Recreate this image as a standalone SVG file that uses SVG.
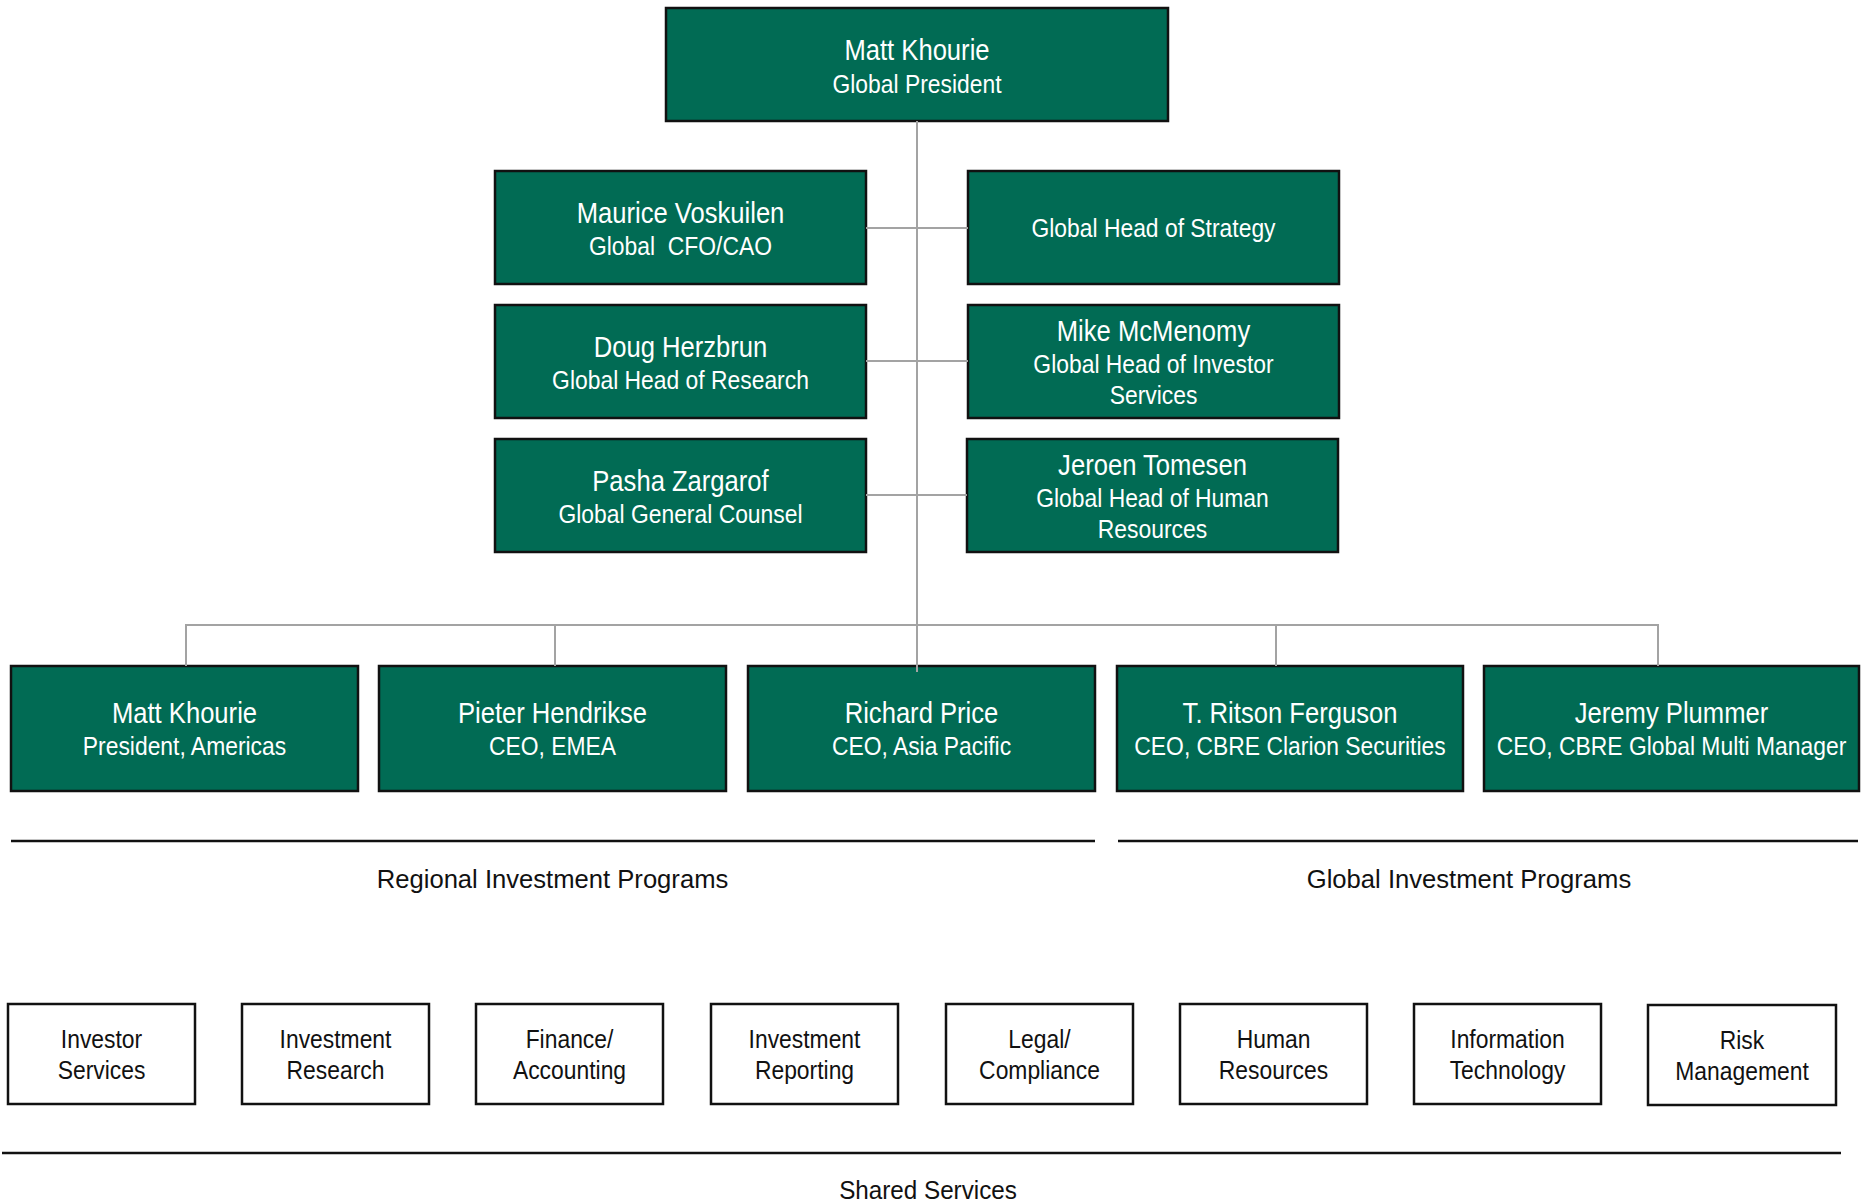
<svg xmlns="http://www.w3.org/2000/svg" width="1861" height="1203" viewBox="0 0 1861 1203">
<style>
.g{fill:#016b54;stroke:#111;stroke-width:2.5}
.w{fill:#fff;stroke:#111;stroke-width:2.5}
text{font-family:"Liberation Sans",Arial,sans-serif;text-anchor:middle}
.n{font-size:29px;fill:#fff}
.t{font-size:26.5px;fill:#fff}
.s{font-size:26.5px;fill:#111}
.l{font-size:26.5px;fill:#111}
.c{stroke:#a3a3a3;stroke-width:2;fill:none}
.r{stroke:#111;stroke-width:2.5}
</style>
<rect width="1861" height="1203" fill="#fff"/>

<g id="n-top">
<rect class="g" x="666" y="8" width="502" height="113"/>
<text class="n" transform="translate(917,60) scale(0.883,1)">Matt Khourie</text>
<text class="t" transform="translate(917,93) scale(0.863,1)">Global President</text>
</g>

<g id="n-maurice">
<rect class="g" x="495" y="171" width="371" height="113"/>
<text class="n" transform="translate(680.5,223) scale(0.883,1)">Maurice Voskuilen</text>
<text class="t" xml:space="preserve" transform="translate(680.5,255) scale(0.863,1)">Global  CFO/CAO</text>
</g>
<g id="n-strategy">
<rect class="g" x="968" y="171" width="371" height="113"/>
<text class="t" transform="translate(1153.5,237) scale(0.863,1)">Global Head of Strategy</text>
</g>
<g id="n-doug">
<rect class="g" x="495" y="305" width="371" height="113"/>
<text class="n" transform="translate(680.5,357) scale(0.883,1)">Doug Herzbrun</text>
<text class="t" transform="translate(680.5,389) scale(0.863,1)">Global Head of Research</text>
</g>
<g id="n-mike">
<rect class="g" x="968" y="305" width="371" height="113"/>
<text class="n" transform="translate(1153.5,341) scale(0.883,1)">Mike McMenomy</text>
<text class="t" transform="translate(1153.5,373) scale(0.863,1)">Global Head of Investor</text>
<text class="t" transform="translate(1153.5,404) scale(0.863,1)">Services</text>
</g>
<g id="n-pasha">
<rect class="g" x="495" y="439" width="371" height="113"/>
<text class="n" transform="translate(680.5,491) scale(0.883,1)">Pasha Zargarof</text>
<text class="t" transform="translate(680.5,523) scale(0.863,1)">Global General Counsel</text>
</g>
<g id="n-jeroen">
<rect class="g" x="967" y="439" width="371" height="113"/>
<text class="n" transform="translate(1152.5,475) scale(0.883,1)">Jeroen Tomesen</text>
<text class="t" transform="translate(1152.5,507) scale(0.863,1)">Global Head of Human</text>
<text class="t" transform="translate(1152.5,538) scale(0.863,1)">Resources</text>
</g>

<g id="n-americas">
<rect class="g" x="11" y="666" width="347" height="125"/>
<text class="n" transform="translate(184.5,723) scale(0.883,1)">Matt Khourie</text>
<text class="t" transform="translate(184.5,755) scale(0.863,1)">President, Americas</text>
</g>
<g id="n-emea">
<rect class="g" x="379" y="666" width="347" height="125"/>
<text class="n" transform="translate(552.5,723) scale(0.883,1)">Pieter Hendrikse</text>
<text class="t" transform="translate(552.5,755) scale(0.863,1)">CEO, EMEA</text>
</g>
<g id="n-apac">
<rect class="g" x="748" y="666" width="347" height="125"/>
<text class="n" transform="translate(921.5,723) scale(0.883,1)">Richard Price</text>
<text class="t" transform="translate(921.5,755) scale(0.863,1)">CEO, Asia Pacific</text>
</g>
<g id="n-clarion">
<rect class="g" x="1117" y="666" width="346" height="125"/>
<text class="n" transform="translate(1290,723) scale(0.883,1)">T. Ritson Ferguson</text>
<text class="t" transform="translate(1290,755) scale(0.863,1)">CEO, CBRE Clarion Securities</text>
</g>
<g id="n-gmm">
<rect class="g" x="1484" y="666" width="375" height="125"/>
<text class="n" transform="translate(1671.5,723) scale(0.883,1)">Jeremy Plummer</text>
<text class="t" transform="translate(1671.5,755) scale(0.863,1)">CEO, CBRE Global Multi Manager</text>
</g>

<g id="connectors">
<line class="c" x1="917" y1="121" x2="917" y2="672"/>
<line class="c" x1="866" y1="228" x2="968" y2="228"/>
<line class="c" x1="866" y1="361" x2="968" y2="361"/>
<line class="c" x1="866" y1="495" x2="967" y2="495"/>
<polyline class="c" points="186,666 186,625 1658,625 1658,666"/>
<line class="c" x1="555" y1="625" x2="555" y2="666"/>
<line class="c" x1="1276" y1="625" x2="1276" y2="666"/>
</g>

<g id="sections">
<line class="r" x1="11" y1="841" x2="1095" y2="841"/>
<line class="r" x1="1118" y1="841" x2="1858" y2="841"/>
<text class="l" transform="translate(552.5,888) scale(0.967,1)">Regional Investment Programs</text>
<text class="l" transform="translate(1469,888) scale(0.967,1)">Global Investment Programs</text>
<line class="r" x1="2" y1="1153" x2="1841" y2="1153"/>
<text class="l" transform="translate(928,1199) scale(0.915,1)">Shared Services</text>
</g>

<g id="s-investor">
<rect class="w" x="8" y="1004" width="187" height="100"/>
<text class="s" transform="translate(101.5,1048) scale(0.863,1)">Investor</text>
<text class="s" transform="translate(101.5,1079) scale(0.863,1)">Services</text>
</g>
<g id="s-research">
<rect class="w" x="242" y="1004" width="187" height="100"/>
<text class="s" transform="translate(335.5,1048) scale(0.863,1)">Investment</text>
<text class="s" transform="translate(335.5,1079) scale(0.863,1)">Research</text>
</g>
<g id="s-finance">
<rect class="w" x="476" y="1004" width="187" height="100"/>
<text class="s" transform="translate(569.5,1048) scale(0.863,1)">Finance/</text>
<text class="s" transform="translate(569.5,1079) scale(0.863,1)">Accounting</text>
</g>
<g id="s-reporting">
<rect class="w" x="711" y="1004" width="187" height="100"/>
<text class="s" transform="translate(804.5,1048) scale(0.863,1)">Investment</text>
<text class="s" transform="translate(804.5,1079) scale(0.863,1)">Reporting</text>
</g>
<g id="s-legal">
<rect class="w" x="946" y="1004" width="187" height="100"/>
<text class="s" transform="translate(1039.5,1048) scale(0.863,1)">Legal/</text>
<text class="s" transform="translate(1039.5,1079) scale(0.863,1)">Compliance</text>
</g>
<g id="s-hr">
<rect class="w" x="1180" y="1004" width="187" height="100"/>
<text class="s" transform="translate(1273.5,1048) scale(0.863,1)">Human</text>
<text class="s" transform="translate(1273.5,1079) scale(0.863,1)">Resources</text>
</g>
<g id="s-it">
<rect class="w" x="1414" y="1004" width="187" height="100"/>
<text class="s" transform="translate(1507.5,1048) scale(0.863,1)">Information</text>
<text class="s" transform="translate(1507.5,1079) scale(0.863,1)">Technology</text>
</g>
<g id="s-risk">
<rect class="w" x="1648" y="1005" width="188" height="100"/>
<text class="s" transform="translate(1742,1049) scale(0.863,1)">Risk</text>
<text class="s" transform="translate(1742,1080) scale(0.863,1)">Management</text>
</g>
</svg>
